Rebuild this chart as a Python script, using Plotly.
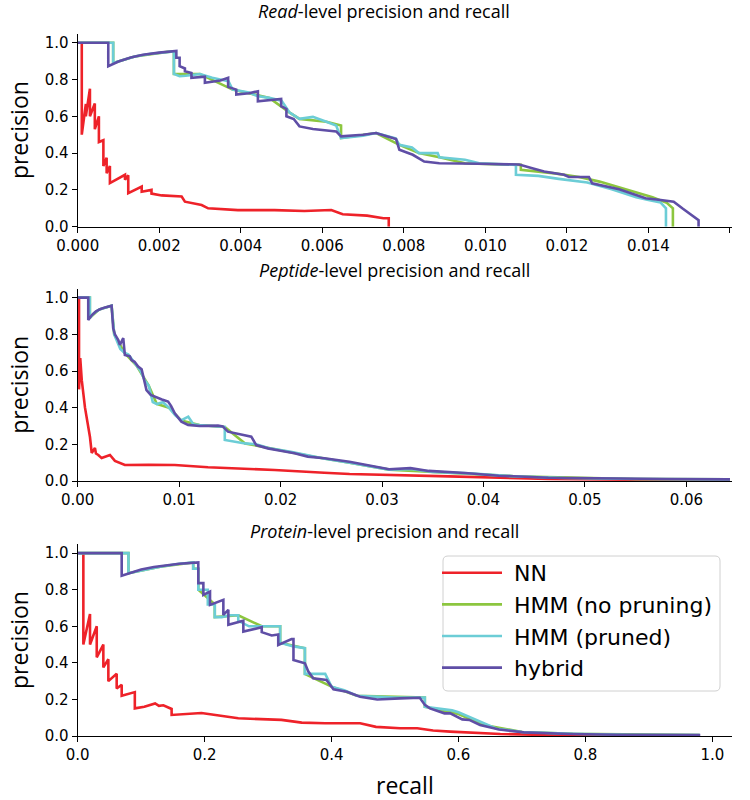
import plotly.graph_objects as go

# ---------------- data ----------------
series_names = ["NN", "HMM (no pruning)", "HMM (pruned)", "hybrid"]
series_colors = ["#ee2229", "#8cc63f", "#6ccdd6", "#5f4ea6"]

panel_titles = ["<i>Read</i>-level precision and recall",
                "<i>Peptide</i>-level precision and recall",
                "<i>Protein</i>-level precision and recall"]
y_tick_vals = [0.0, 0.2, 0.4, 0.6, 0.8, 1.0]
y_tick_text = ["0.0", "0.2", "0.4", "0.6", "0.8", "1.0"]
read_x_ticks = [0.000, 0.002, 0.004, 0.006, 0.008, 0.010, 0.012, 0.014, 0.016]
pep_x_ticks = [0.00, 0.01, 0.02, 0.03, 0.04, 0.05, 0.06]
prot_x_ticks = [0.0, 0.2, 0.4, 0.6, 0.8, 1.0]

# ---- Read level ----
read_nn_recall = [0.0001, 0.0001, 0.0002, 0.0002, 0.0003, 0.0003, 0.00042, 0.00042, 0.00052, 0.00052,
                  0.00063, 0.00063, 0.00071, 0.00071, 0.00079, 0.00079, 0.00116, 0.00116, 0.00124, 0.00124,
                  0.00157, 0.00157, 0.00181, 0.00181, 0.00206, 0.00255, 0.00263, 0.00304, 0.0032, 0.00393,
                  0.00483, 0.00556, 0.00622, 0.0065, 0.0071, 0.0075, 0.00763, 0.00763]
read_nn_precision = [1.0, 0.5, 0.667, 0.6, 0.75, 0.6, 0.67, 0.53, 0.6, 0.46,
                     0.47, 0.33, 0.375, 0.29, 0.33, 0.237, 0.282, 0.255, 0.28, 0.182,
                     0.218, 0.19, 0.2, 0.18, 0.17, 0.164, 0.136, 0.118, 0.1, 0.09,
                     0.09, 0.085, 0.091, 0.068, 0.06, 0.046, 0.046, 0.0]

read_hmm_recall = [0.0, 0.00087, 0.00087, 0.0014, 0.0022, 0.00236, 0.00236, 0.0030, 0.0038, 0.0047,
                   0.0052, 0.00544, 0.0061, 0.00646, 0.00646, 0.00732, 0.00789, 0.00837, 0.00887, 0.0095,
                   0.0098, 0.01087, 0.01087, 0.0113, 0.0117, 0.0123, 0.0128, 0.0135, 0.0141, 0.01445,
                   0.0146, 0.0146]
read_hmm_precision = [1.0, 1.0, 0.89, 0.925, 0.95, 0.952, 0.83, 0.83, 0.745, 0.70,
                      0.62, 0.586, 0.57, 0.55, 0.482, 0.509, 0.445, 0.40, 0.377, 0.345,
                      0.342, 0.336, 0.309, 0.30, 0.29, 0.27, 0.245, 0.20, 0.16, 0.13,
                      0.10, 0.0]

read_pruned_recall = [0.0, 0.00087, 0.00087, 0.0011, 0.0014, 0.0018, 0.0022, 0.00236, 0.00236, 0.0025,
                      0.00265, 0.0030, 0.0033, 0.0035, 0.0037, 0.0038, 0.0042, 0.0044, 0.0047, 0.0050,
                      0.0052, 0.00544, 0.00577, 0.0061, 0.00634, 0.00646, 0.0070, 0.00732, 0.0078, 0.00789,
                      0.0082, 0.00837, 0.00883, 0.00887, 0.0095, 0.00985, 0.0104, 0.01075, 0.01075, 0.0113,
                      0.0118, 0.0125, 0.0131, 0.0137, 0.0140, 0.0143, 0.01443, 0.01443]
read_pruned_precision = [1.0, 1.0, 0.89, 0.905, 0.925, 0.94, 0.95, 0.952, 0.83, 0.818,
                         0.82, 0.83, 0.81, 0.80, 0.79, 0.745, 0.73, 0.71, 0.70, 0.685,
                         0.62, 0.586, 0.597, 0.57, 0.55, 0.482, 0.495, 0.509, 0.48, 0.445,
                         0.43, 0.40, 0.40, 0.377, 0.364, 0.345, 0.34, 0.336, 0.282, 0.276,
                         0.26, 0.24, 0.204, 0.16, 0.145, 0.131, 0.10, 0.0]

read_hybrid_recall = [0.0, 0.00075, 0.00075, 0.0010, 0.0013, 0.0016, 0.0020, 0.00242, 0.00242, 0.00250,
                      0.00250, 0.00263, 0.00263, 0.00279, 0.00279, 0.00300, 0.00312, 0.00312, 0.00350, 0.00369,
                      0.00369, 0.00389, 0.00389, 0.00420, 0.00442, 0.00442, 0.00480, 0.00499, 0.00499, 0.00512,
                      0.00512, 0.00530, 0.00544, 0.00577, 0.00634, 0.00646, 0.00700, 0.00732, 0.00760, 0.00781,
                      0.00789, 0.00822, 0.00850, 0.00887, 0.00985, 0.01083, 0.01115, 0.01144, 0.01193, 0.01205,
                      0.01254, 0.01262, 0.01328, 0.01360, 0.01393, 0.01430, 0.01462, 0.01483, 0.01507, 0.01523,
                      0.01523]
read_hybrid_precision = [1.0, 1.0, 0.872, 0.898, 0.92, 0.935, 0.946, 0.955, 0.918, 0.918,
                         0.872, 0.86, 0.845, 0.835, 0.809, 0.815, 0.815, 0.782, 0.795, 0.809,
                         0.76, 0.745, 0.718, 0.725, 0.736, 0.682, 0.69, 0.694, 0.655, 0.64,
                         0.60, 0.585, 0.545, 0.531, 0.518, 0.491, 0.50, 0.509, 0.49, 0.476,
                         0.418, 0.391, 0.354, 0.345, 0.342, 0.338, 0.318, 0.30, 0.282, 0.27,
                         0.27, 0.236, 0.204, 0.18, 0.155, 0.145, 0.136, 0.10, 0.064, 0.036,
                         0.0]

# ---- Peptide level ----
pep_nn_recall = [0.00013, 0.00013, 0.00025, 0.0004, 0.00072, 0.00105, 0.00121, 0.00138, 0.0017, 0.0018,
                 0.00203, 0.00236, 0.0028, 0.00318, 0.00367, 0.00465, 0.0070, 0.00957, 0.01285, 0.0160,
                 0.0194, 0.0243, 0.0268, 0.0366, 0.0464, 0.055, 0.0643]
pep_nn_precision = [1.0, 0.5, 0.67, 0.55, 0.40, 0.29, 0.24, 0.153, 0.18, 0.15,
                    0.142, 0.125, 0.135, 0.142, 0.11, 0.087, 0.088, 0.087, 0.075, 0.068,
                    0.06, 0.045, 0.038, 0.025, 0.011, 0.007, 0.005]

pep_hmm_recall = [0.0, 0.0012, 0.0012, 0.0021, 0.00334, 0.0036, 0.0046, 0.0058, 0.0070, 0.0078,
                  0.0090, 0.0102, 0.0120, 0.0145, 0.0165, 0.0188, 0.023, 0.0268, 0.0307, 0.035,
                  0.043, 0.055, 0.0643]
pep_hmm_precision = [1.0, 1.0, 0.89, 0.935, 0.956, 0.80, 0.70, 0.63, 0.52, 0.42,
                     0.40, 0.33, 0.305, 0.295, 0.205, 0.18, 0.135, 0.10, 0.062, 0.05,
                     0.026, 0.011, 0.009]

pep_pruned_recall = [0.0, 0.0012, 0.0012, 0.0016, 0.0021, 0.0027, 0.00334, 0.0036, 0.0039, 0.0042,
                     0.0046, 0.0050, 0.0054, 0.0058, 0.0062, 0.0066, 0.0070, 0.0074, 0.0078, 0.0084,
                     0.0090, 0.0096, 0.0102, 0.0109, 0.0114, 0.0120, 0.0138, 0.0145, 0.0145, 0.0165,
                     0.0176, 0.0188, 0.021, 0.023, 0.0245, 0.0268, 0.0287, 0.0307, 0.0328, 0.035,
                     0.039, 0.043, 0.048, 0.055, 0.0643]
pep_pruned_precision = [1.0, 1.0, 0.89, 0.915, 0.935, 0.947, 0.956, 0.80, 0.76, 0.72,
                        0.70, 0.69, 0.66, 0.63, 0.60, 0.55, 0.52, 0.43, 0.42, 0.43,
                        0.40, 0.36, 0.33, 0.351, 0.31, 0.305, 0.30, 0.295, 0.224, 0.205,
                        0.20, 0.18, 0.16, 0.135, 0.12, 0.10, 0.08, 0.062, 0.065, 0.05,
                        0.04, 0.026, 0.016, 0.011, 0.009]

pep_hybrid_recall = [0.0, 0.00104, 0.00104, 0.0014, 0.0018, 0.0022, 0.0027, 0.00334, 0.0035, 0.00367,
                     0.0040, 0.00416, 0.00449, 0.00465, 0.00514, 0.00531, 0.0056, 0.00596, 0.0063, 0.00662,
                     0.00678, 0.0072, 0.0076, 0.0083, 0.00891, 0.0092, 0.00957, 0.01022, 0.01088, 0.0120,
                     0.01383, 0.0143, 0.01481, 0.0160, 0.01711, 0.0176, 0.01874, 0.0200, 0.02137, 0.02268,
                     0.02432, 0.02678, 0.02874, 0.0307, 0.0328, 0.0346, 0.0382, 0.0415, 0.0464, 0.052,
                     0.058, 0.0643]
pep_hybrid_precision = [1.0, 1.0, 0.878, 0.905, 0.925, 0.937, 0.947, 0.956, 0.833, 0.80,
                        0.769, 0.742, 0.78, 0.687, 0.68, 0.66, 0.65, 0.624, 0.61, 0.542,
                        0.496, 0.47, 0.46, 0.445, 0.433, 0.41, 0.369, 0.324, 0.306, 0.30,
                        0.302, 0.298, 0.269, 0.255, 0.242, 0.196, 0.178, 0.165, 0.151, 0.133,
                        0.124, 0.105, 0.083, 0.064, 0.07, 0.055, 0.044, 0.029, 0.018, 0.013,
                        0.011, 0.009]

# ---- Protein level ----
prot_nn_recall = [0.0089, 0.0089, 0.0194, 0.0194, 0.0300, 0.0300, 0.0404, 0.0404, 0.0483, 0.0483,
                  0.0614, 0.0614, 0.0693, 0.0693, 0.090, 0.090, 0.105, 0.122, 0.128, 0.135,
                  0.148, 0.148, 0.195, 0.22, 0.253, 0.321, 0.353, 0.39, 0.445, 0.47,
                  0.508, 0.535, 0.56, 0.587, 0.62, 0.666, 0.745, 0.85, 0.98]
prot_nn_precision = [1.0, 0.5, 0.667, 0.5, 0.6, 0.43, 0.5, 0.375, 0.42, 0.30,
                     0.34, 0.26, 0.28, 0.22, 0.24, 0.151, 0.16, 0.178, 0.165, 0.168,
                     0.148, 0.115, 0.126, 0.115, 0.097, 0.088, 0.073, 0.07, 0.07, 0.05,
                     0.042, 0.042, 0.03, 0.024, 0.018, 0.011, 0.005, 0.004, 0.003]

prot_hmm_recall = [0.0, 0.08, 0.08, 0.13, 0.182, 0.182, 0.19, 0.19, 0.216, 0.216,
                   0.253, 0.29, 0.319, 0.319, 0.358, 0.358, 0.40, 0.44, 0.547, 0.547,
                   0.60, 0.64, 0.70, 0.78, 0.98]
prot_hmm_precision = [1.0, 1.0, 0.89, 0.926, 0.949, 0.915, 0.915, 0.80, 0.72, 0.65,
                      0.66, 0.60, 0.60, 0.51, 0.48, 0.34, 0.27, 0.22, 0.21, 0.16,
                      0.12, 0.06, 0.022, 0.012, 0.005]

prot_pruned_recall = [0.0, 0.08, 0.08, 0.10, 0.13, 0.16, 0.182, 0.182, 0.19, 0.19,
                      0.205, 0.205, 0.216, 0.216, 0.227, 0.24, 0.253, 0.253, 0.27, 0.29,
                      0.319, 0.319, 0.34, 0.358, 0.358, 0.39, 0.40, 0.42, 0.44, 0.50,
                      0.547, 0.547, 0.59, 0.60, 0.62, 0.64, 0.66, 0.70, 0.78, 0.87,
                      0.98]
prot_pruned_precision = [1.0, 1.0, 0.89, 0.905, 0.926, 0.942, 0.949, 0.915, 0.915, 0.80,
                         0.80, 0.72, 0.72, 0.65, 0.65, 0.66, 0.66, 0.63, 0.60, 0.60,
                         0.60, 0.51, 0.49, 0.48, 0.34, 0.34, 0.27, 0.25, 0.22, 0.21,
                         0.21, 0.16, 0.14, 0.13, 0.10, 0.07, 0.04, 0.022, 0.012, 0.007,
                         0.005]

prot_hybrid_recall = [0.0, 0.0693, 0.0693, 0.085, 0.10, 0.12, 0.14, 0.16, 0.19, 0.19,
                      0.198, 0.198, 0.2085, 0.2085, 0.2295, 0.2295, 0.2374, 0.2374, 0.261, 0.261,
                      0.29, 0.29, 0.3057, 0.316, 0.316, 0.337, 0.34, 0.34, 0.358, 0.3635,
                      0.371, 0.39, 0.392, 0.403, 0.424, 0.445, 0.472, 0.508, 0.539, 0.547,
                      0.555, 0.578, 0.587, 0.606, 0.617, 0.634, 0.655, 0.664, 0.703, 0.776,
                      0.85, 0.981]
prot_hybrid_precision = [1.0, 1.0, 0.876, 0.896, 0.911, 0.924, 0.934, 0.942, 0.949, 0.836,
                         0.836, 0.772, 0.79, 0.717, 0.745, 0.662, 0.69, 0.608, 0.63, 0.571,
                         0.595, 0.568, 0.55, 0.555, 0.498, 0.53, 0.53, 0.416, 0.398, 0.352,
                         0.316, 0.31, 0.306, 0.255, 0.242, 0.215, 0.2, 0.206, 0.209, 0.17,
                         0.151, 0.124, 0.124, 0.091, 0.088, 0.06, 0.042, 0.036, 0.02, 0.011,
                         0.007, 0.005]

panels = [
    [(read_nn_recall, read_nn_precision), (read_hmm_recall, read_hmm_precision),
     (read_pruned_recall, read_pruned_precision), (read_hybrid_recall, read_hybrid_precision)],
    [(pep_nn_recall, pep_nn_precision), (pep_hmm_recall, pep_hmm_precision),
     (pep_pruned_recall, pep_pruned_precision), (pep_hybrid_recall, pep_hybrid_precision)],
    [(prot_nn_recall, prot_nn_precision), (prot_hmm_recall, prot_hmm_precision),
     (prot_pruned_recall, prot_pruned_precision), (prot_hybrid_recall, prot_hybrid_precision)],
]

# ---------------- figure ----------------
W, H = 750, 800
x_dom = [77.7 / W, 732.0 / W]
y_doms = [[1 - 226.7 / H, 1 - 33.5 / H],
          [1 - 481.0 / H, 1 - 288.5 / H],
          [1 - 736.0 / H, 1 - 544.0 / H]]
x_ranges = [[0, 0.01605], [0, 0.0645], [0, 1.031]]
x_ticks = [read_x_ticks, pep_x_ticks, prot_x_ticks]
x_fmts = [".3f", ".2f", ".1f"]

fig = go.Figure()
for p, series in enumerate(panels):
    sfx = "" if p == 0 else str(p + 1)
    for s, (rx, py) in enumerate(series):
        fig.add_trace(go.Scatter(
            x=rx, y=py, mode="lines", name=" " + series_names[s],
            line=dict(color=series_colors[s], width=2.6),
            legendgroup=series_names[s], showlegend=(p == 2),
            xaxis="x" + sfx, yaxis="y" + sfx, hoverinfo="skip"))

tick_font = dict(family="DejaVu Sans", size=15, color="black")
layout_axes = {}
for p in range(3):
    sfx = "" if p == 0 else str(p + 1)
    layout_axes["xaxis" + sfx] = dict(
        domain=x_dom, range=x_ranges[p], anchor="y" + sfx, automargin=False,
        tickmode="array", tickvals=x_ticks[p], tickformat=x_fmts[p],
        showline=True, linecolor="black", linewidth=1.3, mirror=False,
        ticks="outside", ticklen=5, tickwidth=1.3, tickcolor="black",
        showgrid=False, zeroline=False, tickfont=tick_font)
    layout_axes["yaxis" + sfx] = dict(
        domain=y_doms[p], range=[0, 1.05], anchor="x" + sfx, automargin=False,
        tickmode="array", tickvals=y_tick_vals, ticktext=y_tick_text,
        showline=True, linecolor="black", linewidth=1.3,
        ticks="outside", ticklen=5, tickwidth=1.3, tickcolor="black",
        showgrid=False, zeroline=False, tickfont=tick_font)

annotations = []
title_y_px = [11, 270, 531]
title_x_px = [384, 394, 384]
for p in range(3):
    annotations.append(dict(text=panel_titles[p], x=title_x_px[p] / W, y=1 - title_y_px[p] / H,
                            xref="paper", yref="paper", showarrow=False,
                            xanchor="center", yanchor="middle",
                            font=dict(family="Open Sans", size=18, color="black")))
    yc = (y_doms[p][0] + y_doms[p][1]) / 2
    annotations.append(dict(text="precision", x=1 / W, y=yc, xref="paper", yref="paper",
                            showarrow=False, textangle=-90, xanchor="left", yanchor="middle",
                            font=dict(family="Open Sans", size=23, color="black")))
annotations.append(dict(text="recall", x=405 / W, y=1 - 785 / H, xref="paper", yref="paper",
                        showarrow=False, xanchor="center", yanchor="middle",
                        font=dict(family="Open Sans", size=23, color="black")))

# rounded legend frame
lx0, lx1, ly0, ly1 = 443 / W, 720 / W, 1 - 691 / H, 1 - 556 / H
rx_, ry_ = 5 / W, 5 / H
legend_path = (f"M {lx0 + rx_},{ly0} L {lx1 - rx_},{ly0} Q {lx1},{ly0} {lx1},{ly0 + ry_} "
               f"L {lx1},{ly1 - ry_} Q {lx1},{ly1} {lx1 - rx_},{ly1} "
               f"L {lx0 + rx_},{ly1} Q {lx0},{ly1} {lx0},{ly1 - ry_} "
               f"L {lx0},{ly0 + ry_} Q {lx0},{ly0} {lx0 + rx_},{ly0} Z")

fig.update_layout(
    width=W, height=H, margin=dict(l=0, r=0, t=0, b=0, autoexpand=False),
    paper_bgcolor="white", plot_bgcolor="white",
    annotations=annotations,
    shapes=[dict(type="path", path=legend_path, xref="paper", yref="paper",
                 line=dict(color="#d0d0d0", width=1), fillcolor="white", layer="above")],
    legend=dict(x=437 / W, y=1 - 552 / H, xanchor="left", yanchor="top",
                bgcolor="rgba(0,0,0,0)", borderwidth=0,
                font=dict(family="DejaVu Sans", size=22, color="black"),
                tracegroupgap=0, itemwidth=60),
    **layout_axes)

fig.write_html("out.html", config={"displayModeBar": False},
               post_script="document.body.style.margin='0px';document.body.style.padding='0px';")
